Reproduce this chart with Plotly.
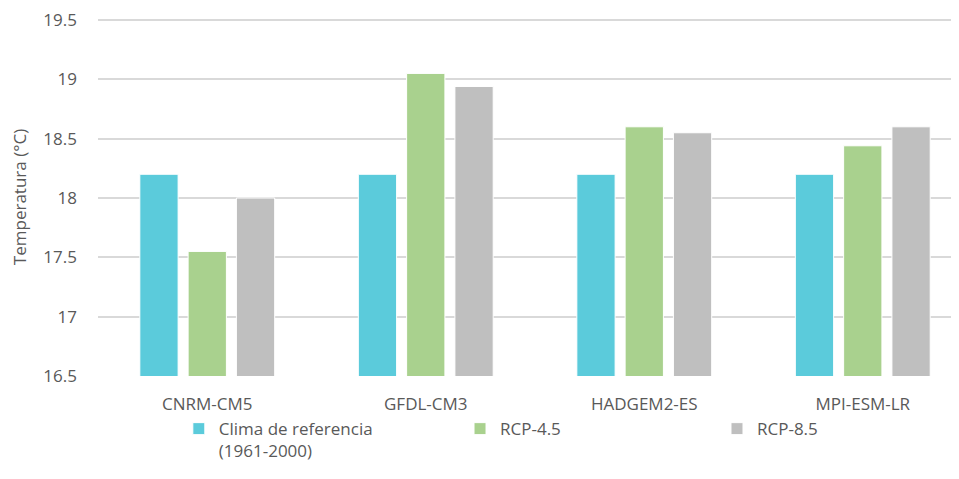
import plotly.graph_objects as go

modelos = ['CNRM-CM5', 'GFDL-CM3', 'HADGEM2-ES', 'MPI-ESM-LR']
clima_ref = [18.2, 18.2, 18.2, 18.2]
rcp45 = [17.55, 19.05, 18.6, 18.44]
rcp85 = [18.0, 18.94, 18.55, 18.6]

series = [
    ('Clima de referencia<br>(1961-2000)', clima_ref, '#5BCBDB'),
    ('RCP-4.5', rcp45, '#A9D18E'),
    ('RCP-8.5', rcp85, '#BFBFBF'),
]
# one legend box per series so the entries can sit where Excel put them
leg_ids = ['legend', 'legend2', 'legend3']
leg_x = [0.093, 0.4166, 0.7123]

fnt = 'Open Sans'
gris = '#595959'

fig = go.Figure()
for (nombre, vals, col), lid in zip(series, leg_ids):
    fig.add_trace(go.Bar(x=modelos, y=vals, name=nombre, legend=lid, showlegend=True,
                         marker=dict(color=col, line=dict(color='white', width=1))))

# the page sits ~8px in from the window corner, margins compensate
fig.update_layout(
    width=959, height=479, showlegend=True,
    margin=dict(l=90, r=0, t=10, b=111, autoexpand=False),
    paper_bgcolor='white', plot_bgcolor='white',
    barmode='group', bargap=0.337, bargroupgap=0.207,
    font=dict(family=fnt, size=17, color=gris),
)
for lid, lx in zip(leg_ids, leg_x):
    fig.update_layout({lid: dict(orientation='h', x=lx, xanchor='left', y=-0.098, yanchor='top',
                                 valign='top', font=dict(size=17, color=gris),
                                 bgcolor='rgba(0,0,0,0)', itemclick=False)})

fig.update_xaxes(range=[-0.5, 3.477], showgrid=False, showline=False,
                 ticks='', ticklabelstandoff=16, tickfont=dict(size=17, color=gris))
fig.update_yaxes(range=[16.5, 19.517], tickvals=[16.5, 17, 17.5, 18, 18.5, 19, 19.5],
                 ticktext=['16.5', '17', '17.5', '18', '18.5', '19', '19.5'],
                 ticklabeloverflow='allow', showgrid=True, gridcolor='#D9D9D9',
                 gridwidth=1.5, zeroline=False, showline=False,
                 ticklabelstandoff=20, tickfont=dict(size=17, color=gris),
                 title=dict(text='Temperatura (°C)', font=dict(size=17, color=gris), standoff=14))

fig.write_html("out.html")
